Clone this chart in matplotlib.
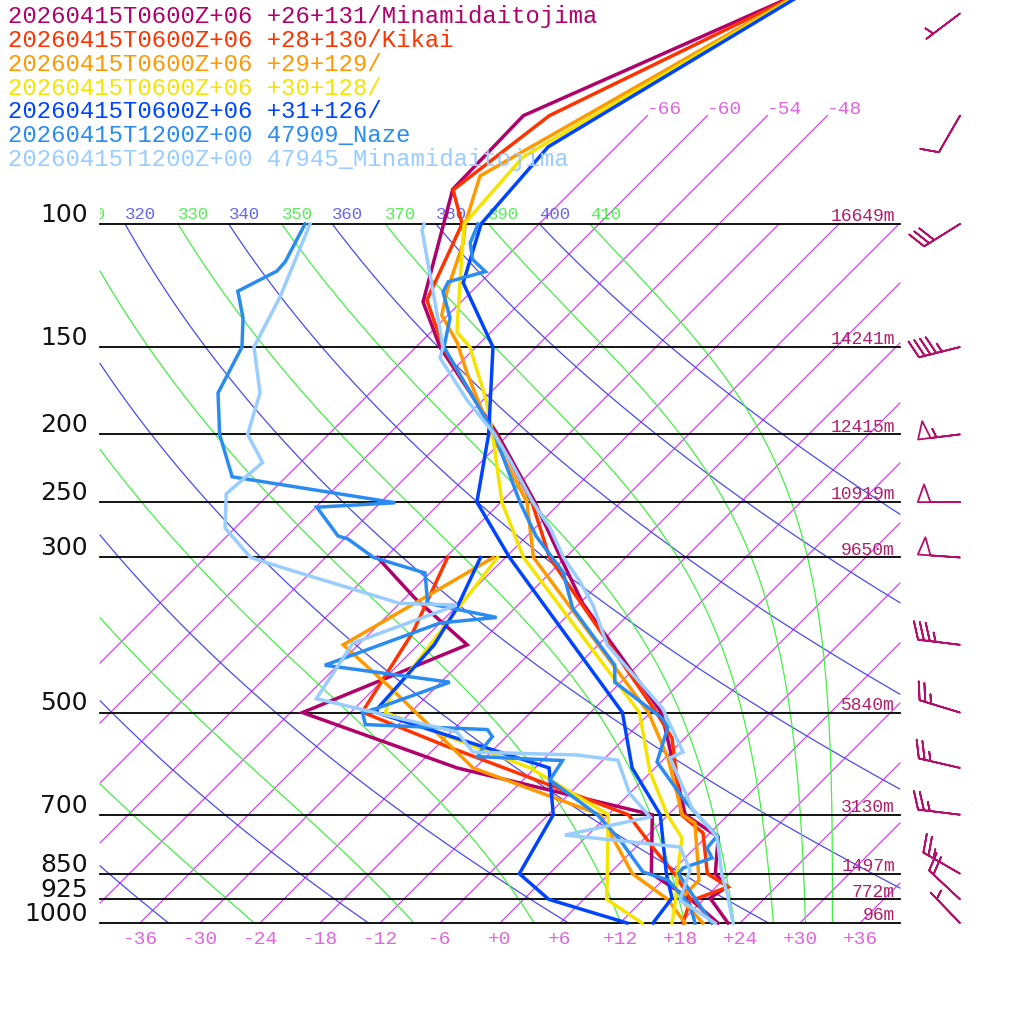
import numpy as np
import matplotlib
matplotlib.use("Agg")
import matplotlib.pyplot as plt
import matplotlib.transforms as mtransforms

# ---------------- data ----------------
run_labels = [
    "20260415T0600Z+06 +26+131/Minamidaitojima",
    "20260415T0600Z+06 +28+130/Kikai",
    "20260415T0600Z+06 +29+129/",
    "20260415T0600Z+06 +30+128/",
    "20260415T0600Z+06 +31+126/",
    "20260415T1200Z+00 47909_Naze",
    "20260415T1200Z+00 47945_Minamidaitojima",
]
run_colors = ["#b0006a", "#ff3300", "#ff9900", "#f5e400", "#0044ff", "#2a8cf0", "#99ccff"]

# forecast +26+131 (Minamidaitojima)
mdj_fc_t_p = [47.5, 70, 89.2, 129.3, 150, 200, 250, 300, 348.9, 500, 700, 753, 850, 888, 921, 1000]
mdj_fc_t = [-63.6, -78.4, -78.1, -69.8, -63.6, -49.1, -38.6, -30.5, -23.7, -4.9, 7.7, 13.2, 16.6, 19.1, 18.5, 22.8]
mdj_fc_td_p = [300, 343, 400, 500, 600, 700, 850, 925, 1000]
mdj_fc_td = [-48.8, -41.0, -31.1, -40.8, -19.8, 4.4, 10.2, 16.7, 21.8]

# forecast +28+130 (Kikai)
kik_fc_t_p = [47.5, 70, 89.4, 100, 128.5, 150, 200, 250, 300, 500, 543.7, 700, 743.4, 850, 888, 925, 1000]
kik_fc_t = [-63.4, -75.8, -78.0, -73.7, -69.6, -63.3, -49.3, -38.9, -31.6, -5.4, -1.3, 7.3, 11.3, 15.8, 19.2, 17.1, 21.2]
kik_fc_td_p = [300, 383.5, 493.2, 500, 556.2, 700, 786.5, 850, 925, 1000]
kik_fc_td = [-41.8, -37.8, -35.0, -34.7, -23.5, 2.0, 8.2, 12.5, 16.7, 18.3]

# forecast +29+129
p29_t_p = [47.5, 85.4, 100, 106.4, 124.7, 135.1, 147.9, 163.4, 200, 250, 300, 500, 580.7, 700, 719.4, 868, 925, 1000]
p29_t = [-63.3, -76.7, -73.4, -71.7, -68.5, -66.6, -62.3, -58.3, -49.7, -39.4, -33.2, -6.2, 0.3, 7.4, 9.5, 15.6, 15.7, 20.3]
p29_td_p = [300, 400, 457, 600, 700, 850, 925, 1000]
p29_td = [-37.2, -43.5, -35.0, -18.2, -0.8, 8.3, 14.4, 18.5]

# forecast +30+128
p30_t_p = [47.5, 80.2, 100, 120.2, 142.8, 150, 179, 200, 250, 300, 500, 608.2, 700, 755.8, 850, 925, 1000]
p30_t = [-63.1, -74.3, -73.5, -68.3, -63.4, -60.6, -53.6, -49.6, -41.9, -34.2, -7.1, -0.1, 5.9, 9.7, 12.8, 15.2, 17.2]
p30_td_p = [300, 475, 500, 600, 700, 850, 925, 1000]
p30_td = [-36.8, -33.6, -32.5, -12.5, 0.0, 5.8, 8.3, 14.2]

# forecast +31+126
p31_t_p = [47.5, 77.6, 100, 121.4, 150, 200, 250, 300, 500, 600, 700, 850, 921, 1000]
p31_t = [-62.9, -72.8, -71.8, -67.7, -58.3, -50.0, -44.4, -35.6, -8.8, -2.3, 5.2, 11.7, 14.7, 15.3]
p31_td_p = [300, 354.7, 400, 493.2, 500, 600, 700, 850, 925, 1000]
p31_td = [-38.5, -35.8, -34.4, -33.7, -33.4, -10.6, -5.5, -3.0, 2.5, 12.7]

# observation 47909 Naze
naze_t_p = [100, 106.4, 112.4, 117.0, 121.0, 125.1, 136.3, 150, 200, 250, 279.5, 314.7, 354.7, 427.8,
            452.4, 509.1, 524.4, 588.4, 672.9, 750.8, 781, 807.3, 834.3, 850, 925, 1000]
naze_t = [-72.1, -71.0, -69.1, -66.6, -69.3, -68.8, -65.5, -63.2, -49.4, -40.1, -35.1, -28.8, -24.2, -14.3,
          -12.6, -4.3, -2.8, -0.4, 6.6, 13.0, 13.2, 14.7, 12.8, 12.9, 17.2, 21.2]
naze_td_p = [100, 113.3, 116.8, 124.8, 136.3, 150, 174.5, 200, 230, 250.5, 254.2, 279.5, 282.3, 300,
             315.7, 348.9, 365.5, 372.2, 427.8, 452.4, 493.2, 500, 520.2, 528.8, 541.3, 561.9, 578,
             585.6, 624.5, 700, 760.8, 845.4, 868, 942.4, 1000]
naze_td = [-89.4, -87.6, -87.5, -89.4, -86.2, -83.4, -81.2, -76.9, -71.4, -52.5, -59.9, -54.9, -53.6, -49.2,
           -42.5, -39.2, -30.9, -36.0, -43.3, -29.1, -33.8, -34.8, -33.3, -20.6, -19.4, -19.2, -18.9,
           -10.0, -9.3, -1.1, 3.7, 9.2, 12.5, 17.2, 19.5]

# observation 47945 Minamidaitojima
mdj_ob_t_p = [100, 102, 150, 155.5, 178.6, 200, 220, 250, 272.2, 300, 323.1, 350.9, 400, 493.2,
              569.4, 580.7, 684.7, 753.3, 853.8, 918, 1000]
mdj_ob_t = [-77.5, -77.1, -63.3, -62.5, -55.6, -49.4, -44.8, -38.8, -34.5, -30.2, -26.4, -22.5, -17.1, -5.2,
            1.2, 0.5, 7.7, 13.1, 17.4, 20.2, 23.3]
mdj_ob_td_p = [100, 127.2, 150, 174.5, 200, 219.4, 243.2, 272.2, 300, 312.6, 348.9, 350.9, 397.8, 477.6,
               533.1, 569.4, 575, 584.9, 652.5, 705.3, 748.4, 778.5, 839.8, 927, 1000]
mdj_ob_td = [-88.9, -84.6, -82.2, -77.0, -74.1, -69.8, -70.3, -67.0, -61.5, -56.3, -42.0, -36.1, -42.7, -40.8,
             -23.4, -19.8, -9.1, -4.5, 0.0, 4.4, -2.3, 10.4, 13.7, 15.7, 21.5]

profiles = [
    (mdj_fc_t_p, mdj_fc_t, mdj_fc_td_p, mdj_fc_td),
    (kik_fc_t_p, kik_fc_t, kik_fc_td_p, kik_fc_td),
    (p29_t_p, p29_t, p29_td_p, p29_td),
    (p30_t_p, p30_t, p30_td_p, p30_td),
    (p31_t_p, p31_t, p31_td_p, p31_td),
    (naze_t_p, naze_t, naze_td_p, naze_td),
    (mdj_ob_t_p, mdj_ob_t, mdj_ob_td_p, mdj_ob_td),
]

# isobars with standard heights
levels = [100, 150, 200, 250, 300, 500, 700, 850, 925, 1000]
heights = ["16649m", "14241m", "12415m", "10919m", "9650m", "5840m", "3130m", "1497m", "772m", "96m"]

# winds (knots, direction in degrees)
wind_p = [50, 70, 100, 150, 200, 250, 300, 400, 500, 600, 700, 850, 925, 1000]
wind_dir = [233, 210, 238, 256, 263, 270, 274, 277, 287, 283, 277, 300, 313, 316]
wind_spd = [5, 10, 30, 45, 55, 50, 50, 35, 25, 25, 25, 25, 20, 5]

temp_ticks = list(range(-36, 37, 6))
isotherms = list(range(-66, 41, 6))
dry_thetas = list(range(240, 401, 20))
moist_thetas = list(range(250, 411, 20))

# ---------------- chart ----------------
SKEW = 30.36          # degrees of x-shift per unit ln(p)
P_TOP = 1000 * np.exp(-923 / 303.6)
P_BOT = 1000 * np.exp(101 / 303.6)


def skx(t, p):
    return np.asarray(t, float) + SKEW * np.log(1000.0 / np.asarray(p, float))


def theta_e_sat(tk, p):
    tc = tk - 273.15
    es = 6.112 * np.exp(17.67 * tc / (tc + 243.5))
    r = np.where(es < 0.9 * p, 622.0 * es / np.maximum(p - es, 1e-6), 1e4)
    ex = np.minimum((3.376 / tk - 0.00254) * r * (1 + 0.00081 * r), 60)
    return tk * (1000.0 / p) ** (0.2854 * (1 - 0.00028 * r)) * np.exp(ex)


def moist_t(the, p):
    lo = np.full_like(p, 150.0)
    hi = np.full_like(p, 330.0)
    for _ in range(60):
        mid = 0.5 * (lo + hi)
        up = theta_e_sat(mid, p) > the
        hi = np.where(up, mid, hi)
        lo = np.where(up, lo, mid)
    return 0.5 * (lo + hi) - 273.15


def clipped(x):
    x = np.array(x, float)
    x[(x < -40) | (x > 40)] = np.nan
    return x


fig = plt.figure(figsize=(10.24, 10.24), dpi=100)
ax = fig.add_axes([0, 0, 1, 1])
ax.set_yscale("log")
ax.set_ylim(P_BOT, P_TOP)
ax.set_xlim(-50, 52.4)
ax.axis("off")

label_clip = mtransforms.TransformedBbox(
    mtransforms.Bbox.from_extents(100 / 1024, 0, 900 / 1024, 1), fig.transFigure)

pp = np.logspace(np.log10(1000), np.log10(100), 3000)
pp_ext = np.logspace(np.log10(1000), np.log10(70), 3000)


def theta_label(x100, text, color):
    # only labels that reach into the plot frame are shown (clipped at its left edge)
    if x100 < -44:
        return
    txt = ax.annotate(text, (x100, 100), xytext=(0, 1.5), textcoords="offset points",
                      color=color, fontsize=12.5, family="Liberation Mono",
                      ha="left", va="bottom")
    txt.set_clip_box(label_clip)
    txt.set_clip_on(True)


# isotherms
for t in isotherms:
    pr = pp_ext if t <= -48 else pp
    xs = clipped(skx(t, pr))
    ax.plot(xs, pr, color="#cc44ee", lw=0.9, zorder=1)
    if t <= -48:
        ax.annotate(f"{t}", (skx(t, 70), 70), xytext=(0, -2), textcoords="offset points",
                    color="#dd66dd", fontsize=14, family="Liberation Mono",
                    ha="left", va="bottom")

# dry adiabats
for th in dry_thetas:
    tt = th * (pp / 1000.0) ** 0.2857 - 273.15
    ax.plot(clipped(skx(tt, pp)), pp, color="#4a4aee", lw=0.9, zorder=1)
    theta_label(skx(th * 0.1 ** 0.2857 - 273.15, 100), f"{th}", "#6666ee")

# moist adiabats
for th in moist_thetas:
    tt = moist_t(th, pp)
    ax.plot(clipped(skx(tt, pp)), pp, color="#44ee44", lw=0.9, zorder=1)
    theta_label(skx(moist_t(th, np.array([100.0]))[0], 100), f"{th}", "#55ee55")

# isobars, pressure and height labels
for lev, hgt in zip(levels, heights):
    ax.plot([-40, 40], [lev, lev], color="black", lw=1.3, zorder=2)
    ax.annotate(str(lev), (-41.2, lev), xytext=(0, 1.5), textcoords="offset points",
                ha="right", va="baseline", fontsize=18, color="#111111")
    ax.annotate(hgt, (39.5, lev), xytext=(0, 2), textcoords="offset points",
                ha="right", va="baseline", fontsize=13, family="Liberation Mono",
                color="#b0206a")

# temperature tick labels
for t in temp_ticks:
    lab = f"+{t}" if t >= 0 else f"{t}"
    ax.annotate(lab, (t, 1000), xytext=(0, -6), textcoords="offset points",
                ha="center", va="top", fontsize=14, family="Liberation Mono",
                color="#dd66dd")

# soundings
for (tp, tv, dp, dv), col in zip(profiles, run_colors):
    ax.plot(skx(tv, tp), tp, color=col, lw=2.5, zorder=5, solid_joinstyle="miter")
    ax.plot(skx(dv, dp), dp, color=col, lw=2.5, zorder=5, solid_joinstyle="miter")

# legend text
for i, (lab, col) in enumerate(zip(run_labels, run_colors)):
    fig.text(8 / 1024, 1 - (17 + 23.7 * i) / 1024, lab, color=col, fontsize=17.2,
             family="Liberation Mono", ha="left", va="center", zorder=4)

# wind barbs
wd = np.radians(wind_dir)
u = -np.array(wind_spd) * np.sin(wd)
v = -np.array(wind_spd) * np.cos(wd)
ax.barbs(np.full(len(wind_p), 46.0), wind_p, u, v, length=7.8, pivot="tip",
         barbcolor="#b0106a", flagcolor="none", linewidth=1.3, zorder=6,
         sizes=dict(spacing=0.14, height=0.42, width=0.3))

fig.savefig("out.png", dpi=100)
